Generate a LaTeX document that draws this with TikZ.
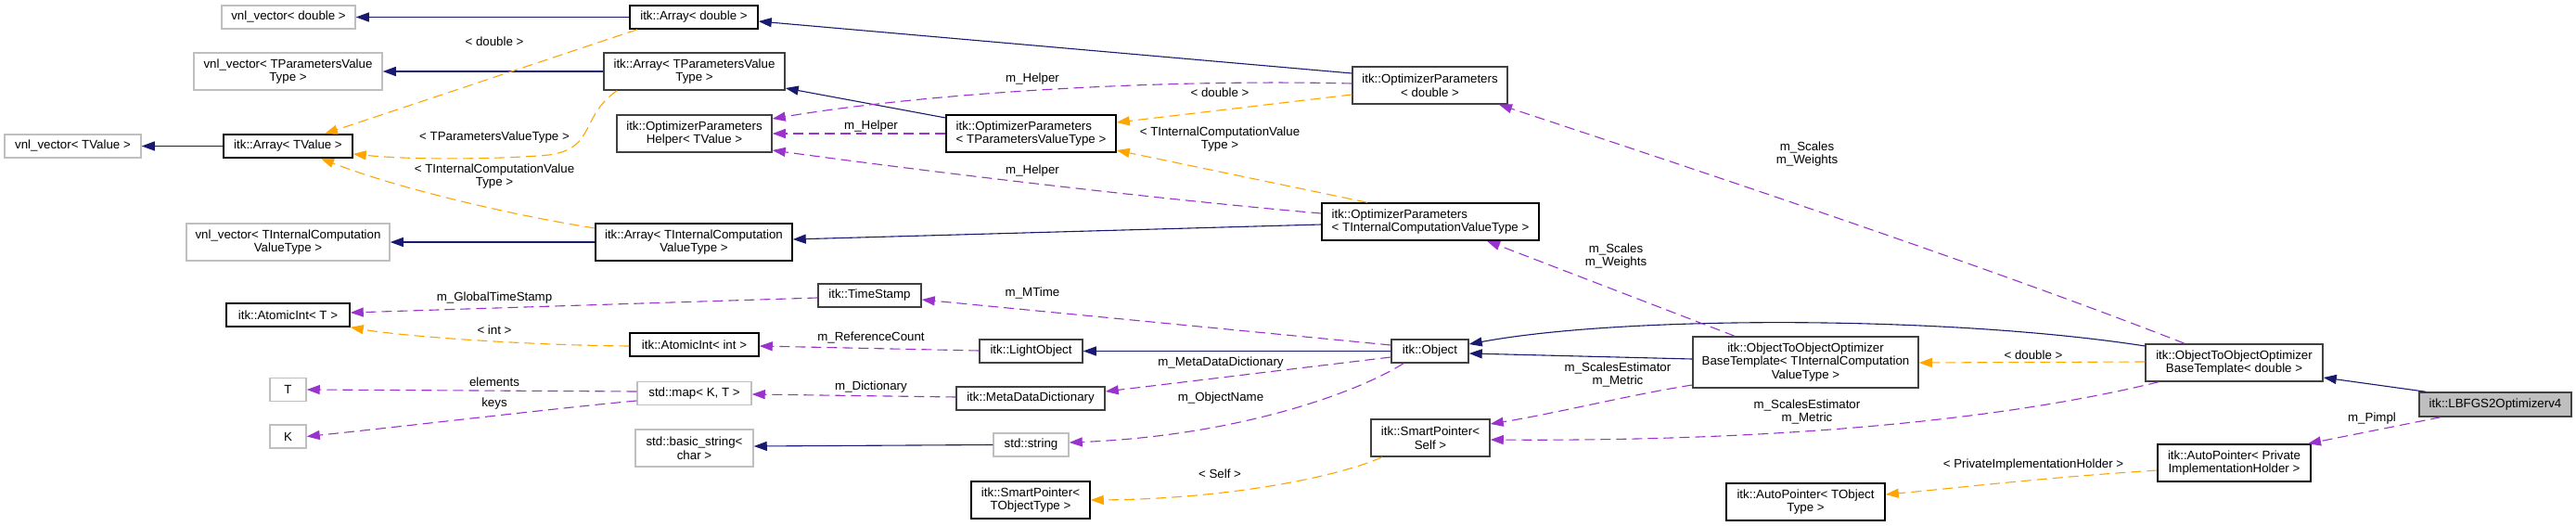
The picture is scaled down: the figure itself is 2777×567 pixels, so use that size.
\documentclass[tikz,border=0pt]{standalone}
\usepackage{fontspec}
\setmainfont{Liberation Sans}
\usetikzlibrary{arrows.meta}
\definecolor{inhc}{HTML}{191970}
\definecolor{usec}{HTML}{9A32CD}
\definecolor{tplc}{HTML}{FFA500}
\definecolor{extc}{HTML}{BFBFBF}
\definecolor{grayb}{HTML}{404040}
\tikzset{
  txt/.style={font=\fontsize{13.3}{14.7}\selectfont},
  box/.style={txt, draw=black, line width=1.5pt, fill=white, inner sep=0pt, align=center},
  gbox/.style={box, draw=grayb},
  ebox/.style={box, draw=extc},
  sz/.style 2 args={minimum width=#1pt, minimum height=#2pt},
  tip/.style={-{Triangle[length=14pt,width=10pt]}},
  inh/.style={draw=inhc, line width=1.1pt, tip},
  use/.style={draw=usec, line width=1.1pt, dash pattern=on 11pt off 6pt, tip},
  tpl/.style={draw=tplc, line width=1.1pt, dash pattern=on 11pt off 6pt, tip},
  lbl/.style={txt, inner sep=0pt, align=center},
}
\begin{document}
\begin{tikzpicture}[x=1pt,y=-1pt]
\fill[white] (0,0) rectangle (2777,567);
\useasboundingbox (0,0) rectangle (2777,567);

% ---- nodes ----
\node[ebox, sz={144}{25}] (vd) at (311,18.5) {vnl\_vector< double >};
\node[ebox, sz={203}{40}] (vp) at (310.5,77) {vnl\_vector< TParametersValue\\Type >};
\node[ebox, sz={147}{25}] (vt) at (78.5,157.5) {vnl\_vector< TValue >};
\node[box, sz={139}{25}] (at) at (310.5,157.5) {itk::Array< TValue >};
\node[ebox, sz={219}{40}] (vi) at (310.5,261) {vnl\_vector< TInternalComputation\\ValueType >};
\node[box, sz={138}{25}] (ad) at (748,18.5) {itk::Array< double >};
\node[gbox, sz={195}{40}] (ap) at (748.5,77) {itk::Array< TParametersValue\\Type >};
\node[gbox, sz={167}{40}] (hp) at (748.5,144) {itk::OptimizerParameters\\Helper< TValue >};
\node[box, sz={212}{40}] (ai) at (748,261) {itk::Array< TInternalComputation\\ValueType >};
\node[box, sz={183}{40}, align=left] (opp) at (1111.5,144) {itk::OptimizerParameters\\< TParametersValueType >};
\node[gbox, sz={167}{40}] (opd) at (1541.5,92) {itk::OptimizerParameters\\< double >};
\node[box, sz={234}{40}, align=left] (opi) at (1542,239) {itk::OptimizerParameters\\< TInternalComputationValueType >};
\node[box, sz={133}{25}] (aT) at (310.5,339.5) {itk::AtomicInt< T >};
\node[ebox, sz={39}{25}] (T) at (310.5,420) {T};
\node[ebox, sz={39}{25}] (K) at (310.5,470.5) {K};
\node[box, sz={139}{25}] (aI) at (748.5,371.5) {itk::AtomicInt< int >};
\node[ebox, sz={123}{25}] (map) at (748.5,424) {std::map< K, T >};
\node[ebox, sz={127}{40}] (bs) at (748.5,483) {std::basic\_string<\\char >};
\node[gbox, sz={111}{25}] (ts) at (937.5,318.5) {itk::TimeStamp};
\node[gbox, sz={111}{25}] (lo) at (1111.5,378.5) {itk::LightObject};
\node[gbox, sz={160}{25}] (mdd) at (1111,429.5) {itk::MetaDataDictionary};
\node[ebox, sz={81}{25}] (ss) at (1111.5,479.5) {std::string};
\node[box, sz={128}{40}] (spT) at (1111,539) {itk::SmartPointer<\\TObjectType >};
\node[gbox, sz={83}{25}] (obj) at (1541.5,378.5) {itk::Object};
\node[gbox, sz={243}{55}] (BTi) at (1946.5,390.5) {itk::ObjectToObjectOptimizer\\BaseTemplate< TInternalComputation\\ValueType >};
\node[gbox, sz={128}{40}] (spS) at (1542,472) {itk::SmartPointer<\\Self >};
\node[box, sz={171}{40}] (apT) at (1946.5,541) {itk::AutoPointer< TObject\\Type >};
\node[gbox, sz={191}{40}] (BTd) at (2408.5,391) {itk::ObjectToObjectOptimizer\\BaseTemplate< double >};
\node[gbox, sz={164}{26}, fill=extc] (LB) at (2690,436) {itk::LBFGS2Optimizerv4};
\node[box, sz={165}{40}] (apP) at (2408.5,499) {itk::AutoPointer< Private\\ImplementationHolder >};

% ---- inheritance ----
\draw[inh] (ad.west) -- (vd.east);
\draw[inh] (ap.west) -- (vp.east);
\draw[inh] (at.west) -- (vt.east);
\draw[inh] (ai.west) -- (vi.east);
\draw[inh] (opd.west |- 0,79) -- (ad.east |- 0,23);
\draw[inh] (opp.west |- 0,127) -- (ap.east |- 0,95);
\draw[inh] (opi.west |- 0,242) -- (ai.east |- 0,258);
\draw[inh] (BTd.west |- 0,373) .. controls (2100,340) and (1750,340) .. (obj.east |- 0,371);
\draw[inh] (BTi.west |- 0,387) -- (obj.east |- 0,381);
\draw[inh] (obj.west) -- (lo.east);
\draw[inh] (ss.west) -- (bs.east |- 0,481);
\draw[inh] (LB.north -| 2615,0) -- (BTd.east |- 0,407);

% ---- usage ----
\draw[use] (ts.west |- 0,321) -- (aT.east |- 0,337);
\draw[use] (lo.west |- 0,378) -- (aI.east |- 0,373);
\draw[use] (mdd.west |- 0,428) -- (map.east |- 0,425);
\draw[use] (map.west |- 0,422) -- (T.east);
\draw[use] (map.west |- 0,432) .. controls (600,440) and (450,458) .. (K.east);
\draw[use] (obj.west |- 0,372) -- (ts.east |- 0,323);
\draw[use] (obj.west |- 0,385) -- (mdd.east |- 0,422);
\draw[use] (obj.south -| 1513,0) .. controls (1460,425) and (1330,470) .. (ss.east |- 0,477);
\draw[use] (opd.west |- 0,90) .. controls (1250,85) and (1000,100) .. (hp.east |- 0,128);
\draw[use] (opp.west) -- (hp.east);
\draw[use] (opi.west |- 0,230) .. controls (1250,215) and (1000,185) .. (hp.east |- 0,162);
\draw[use] (BTi.north -| 1870,0) -- (opi.south -| 1603,0);
\draw[use] (BTd.north -| 2355,0) .. controls (2150,290) and (1850,190) .. (opd.south -| 1616,0);
\draw[use] (BTi.west |- 0,415) .. controls (1760,425) and (1680,445) .. (spS.east |- 0,457);
\draw[use] (BTd.south -| 2327,0) .. controls (2150,455) and (1900,476) .. (spS.east |- 0,474);
\draw[use] (LB.south -| 2631,0) -- (apP.north -| 2488,0);

% ---- template instantiation ----
\draw[tpl] (ad.south -| 687,0) -- (at.north -| 350,0);
\draw[tpl] (ap.south -| 665,0) .. controls (622,128) and (645,165) .. (580,168) .. controls (520,172) and (440,172) .. (at.east |- 0,166);
\draw[tpl] (ai.west |- 0,246) .. controls (540,230) and (420,200) .. (at.south -| 346,0);
\draw[tpl] (opd.west |- 0,102) -- (opp.east |- 0,132);
\draw[tpl] (opi.north -| 1474,0) -- (opp.east |- 0,162);
\draw[tpl] (aI.west |- 0,373) .. controls (560,372) and (430,362) .. (aT.south east);
\draw[tpl] (BTd.west |- 0,390) -- (BTi.east |- 0,391);
\draw[tpl] (spS.south -| 1490,0) .. controls (1440,515) and (1320,538) .. (spT.east |- 0,539);
\draw[tpl] (apP.west |- 0,507) .. controls (2200,515) and (2100,527) .. (apT.east |- 0,533);

% ---- labels ----
\node[lbl] (l1) at (533,45) {< double >};
\node[lbl] (l2) at (533,148) {< TParametersValueType >};
\node[lbl] (l3) at (533,190) {< TInternalComputationValue\\Type >};
\node[lbl] (l4) at (1113,85) {m\_Helper};
\node[lbl] (l5) at (1315,100) {< double >};
\node[lbl] (l6) at (939,136) {m\_Helper};
\node[lbl] (l7) at (1315,150) {< TInternalComputationValue\\Type >};
\node[lbl] (l8) at (1113,184) {m\_Helper};
\node[lbl] (l9) at (1948,166) {m\_Scales\\m\_Weights};
\node[lbl] (l10) at (1742,276) {m\_Scales\\m\_Weights};
\node[lbl] (l11) at (533,321) {m\_GlobalTimeStamp};
\node[lbl] (l12) at (533,356) {< int >};
\node[lbl] (l13) at (533,412) {elements};
\node[lbl] (l14) at (533,435) {keys};
\node[lbl] (l15) at (1113,316) {m\_MTime};
\node[lbl] (l16) at (939,364) {m\_ReferenceCount};
\node[lbl] (l17) at (1316,391) {m\_MetaDataDictionary};
\node[lbl] (l18) at (939,417) {m\_Dictionary};
\node[lbl] (l19) at (1316,429) {m\_ObjectName};
\node[lbl] (l20) at (1315,511) {< Self >};
\node[lbl] (l21) at (1744,404) {m\_ScalesEstimator\\m\_Metric};
\node[lbl] (l22) at (1948,444) {m\_ScalesEstimator\\m\_Metric};
\node[lbl] (l23) at (2192,383) {< double >};
\node[lbl] (l24) at (2557,451) {m\_Pimpl};
\node[lbl] (l25) at (2192,501) {< PrivateImplementationHolder >};
\end{tikzpicture}
\end{document}
